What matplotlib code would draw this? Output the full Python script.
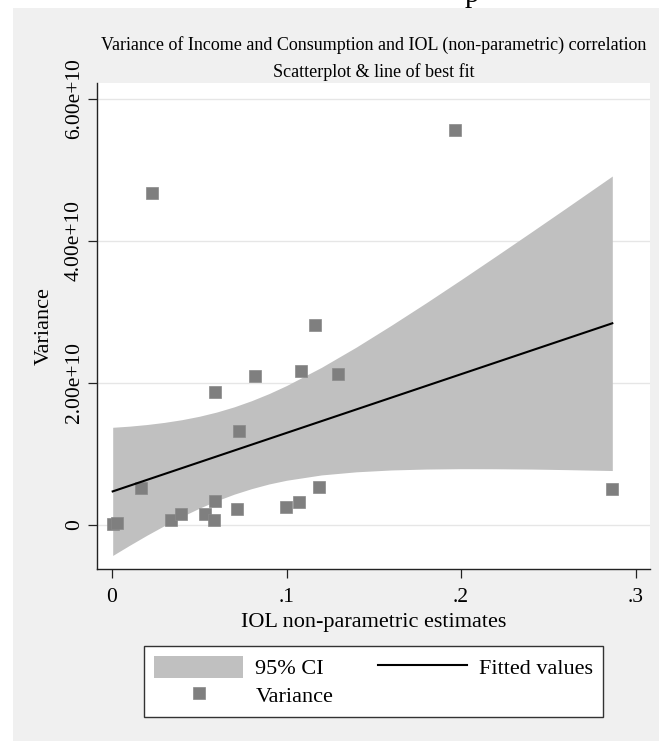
import matplotlib
matplotlib.use("Agg")
import matplotlib.pyplot as plt
import matplotlib.patches as patches
from matplotlib.lines import Line2D
import numpy as np

# scatter points (IOL estimate, variance)
var_x = [0.0005, 0.003, 0.0166, 0.0227, 0.0336, 0.0394, 0.0533, 0.0585, 0.0592, 0.0592,
         0.0716, 0.0728, 0.0819, 0.0997, 0.1074, 0.1083, 0.1165, 0.1184, 0.1293, 0.1966, 0.2867]
var_y = [0.02, 0.03, 0.525, 4.672, 0.07, 0.15, 0.15, 0.07, 0.34, 1.873,
         0.22, 1.324, 2.10, 0.26, 0.32, 2.169, 2.817, 0.54, 2.13, 5.56, 0.503]

# fitted line and 95% CI band (units of 1e10)
fit_x = [0.0004, 0.2867]
fit_y = [0.473, 2.841]
ci_x = [0.0004, 0.01, 0.02, 0.03, 0.04, 0.05, 0.06, 0.07, 0.08, 0.09, 0.10,
        0.12, 0.14, 0.16, 0.18, 0.20, 0.22, 0.24, 0.26, 0.2867]
ci_lo = [-0.429, -0.287, -0.144, -0.009, 0.119, 0.236, 0.342, 0.434, 0.512, 0.578, 0.630,
         0.705, 0.749, 0.775, 0.788, 0.793, 0.792, 0.788, 0.780, 0.767]
ci_hi = [1.376, 1.392, 1.415, 1.445, 1.483, 1.531, 1.591, 1.664, 1.751, 1.851, 1.964,
         2.220, 2.506, 2.812, 3.129, 3.455, 3.787, 4.122, 4.460, 4.915]

x_ticks = [0, 0.1, 0.2, 0.3]
x_ticklabels = ["0", ".1", ".2", ".3"]
y_ticks = [0, 2e10, 4e10, 6e10]
y_ticklabels = ["0", "2.00e+10", "4.00e+10", "6.00e+10"]

title1 = "Variance of Income and Consumption and IOL (non-parametric) correlation"
title2 = "Scatterplot & line of best fit"
xlab = "IOL non-parametric estimates"
ylab = "Variance"
leg_labels = ["95% CI", "Variance", "Fitted values"]

serif = "Liberation Serif"
W, H = 659, 741

fig = plt.figure(figsize=(W / 100, H / 100), dpi=100)
fig.patch.set_facecolor("white")
bg = patches.Rectangle((12.7 / W, 0), 1 - 12.7 / W, (H - 8) / H, transform=fig.transFigure,
                       facecolor="#f0f0f0", edgecolor="none", zorder=-5)
fig.patches.append(bg)
fig.text(465 / W, 1 - 1.5 / H, "p", family=serif, fontsize=21, va="baseline", ha="left")

left, right, top, bottom = 97.3, 650, 83.3, 569.3
ax = fig.add_axes([left / W, (H - bottom) / H, (right - left) / W, (bottom - top) / H])
ax.set_zorder(1)
ax.set_facecolor("white")

scale = 1e10
ax.fill_between(ci_x, np.array(ci_lo) * scale, np.array(ci_hi) * scale,
                color="#c0c0c0", lw=0, zorder=2)
ax.plot(var_x, np.array(var_y) * scale, ls="none", marker="s", ms=9.3,
        mfc="#7f7f7f", mec="#8a8a8a", mew=0.5, zorder=3)
ax.plot(fit_x, np.array(fit_y) * scale, color="black", lw=1.5, zorder=4)

ax.set_xlim(-0.00842, 0.3083)
ax.set_ylim(-0.624e10, 6.221e10)
ax.set_xticks(x_ticks)
ax.set_xticklabels(x_ticklabels)
ax.set_yticks(y_ticks)
ax.set_yticklabels(y_ticklabels, rotation=90, va="center")
for t in ax.get_xticklabels() + ax.get_yticklabels():
    t.set_family(serif)
    t.set_fontsize(15.5)
ax.tick_params(axis="both", direction="out", length=6.5, width=0.9, color="#222222")
ax.tick_params(axis="x", pad=7)
ax.tick_params(axis="y", pad=3)
ax.yaxis.grid(True, color="#e6e6e6", lw=1.0, zorder=1)
ax.set_axisbelow(True)
for s in ["top", "right"]:
    ax.spines[s].set_visible(False)
for s in ["left", "bottom"]:
    ax.spines[s].set_color("#222222")
    ax.spines[s].set_linewidth(1.0)

ax.set_xlabel(xlab, family=serif, fontsize=16, labelpad=4)
ax.set_ylabel(ylab, family=serif, fontsize=16, labelpad=8)

cx = (left + right) / 2 / W
fig.text(cx, 1 - 45 / H, title1, family=serif, fontsize=13, ha="center", va="center")
fig.text(cx, 1 - 72 / H, title2, family=serif, fontsize=13, ha="center", va="center")

handles = [patches.Patch(facecolor="#c0c0c0", edgecolor="none"),
           Line2D([], [], ls="none", marker="s", ms=9.3, mfc="#7f7f7f", mec="#8a8a8a", mew=0.5),
           Line2D([], [], color="black", lw=1.5)]
leg = fig.legend(handles, leg_labels, loc="center",
                 bbox_to_anchor=(373.5 / W, (H - 681.5) / H), ncol=2,
                 prop={"family": serif, "size": 16}, frameon=True, fancybox=False,
                 edgecolor="#333333", framealpha=1, borderpad=0.45, handlelength=4,
                 handleheight=1.12, handletextpad=0.55, labelspacing=0.2, columnspacing=2.0,
                 borderaxespad=0)
leg.get_frame().set_linewidth(1.0)

fig.savefig("out.png", dpi=100, facecolor=fig.get_facecolor())
